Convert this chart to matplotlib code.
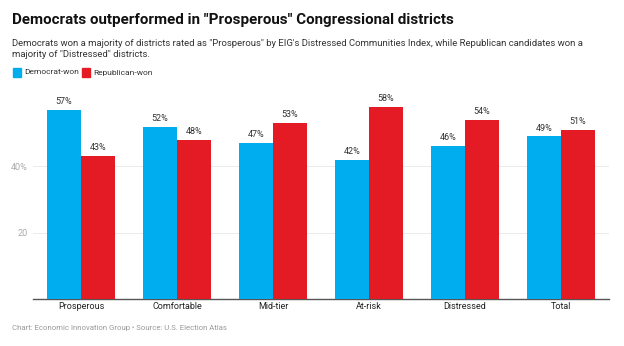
import numpy as np
import matplotlib.pyplot as plt
from matplotlib.patches import Rectangle

plt.rcParams['font.family'] = ['Roboto', 'DejaVu Sans']

categories = ['Prosperous', 'Comfortable', 'Mid-tier', 'At-risk', 'Distressed', 'Total']
dem = [57, 52, 47, 42, 46, 49]
rep = [43, 48, 53, 58, 54, 51]
yticks = [20, 40]
ytick_labels = ['20', '40%']

blue = '#00ADEF'
red = '#E41B24'

fig = plt.figure(figsize=(6.24, 3.46), dpi=100)
W, H = 624, 346
ax = fig.add_axes([33 / W, 1 - 299 / H, 576 / W, 199 / H])

x = np.arange(len(categories))
w = 0.355
b1 = ax.bar(x - w / 2, dem, w, color=blue, zorder=3)
b2 = ax.bar(x + w / 2, rep, w, color=red, zorder=3)
for bars, vals in ((b1, dem), (b2, rep)):
    for b, v in zip(bars, vals):
        ax.text(b.get_x() + b.get_width() / 2, v + 1.2, f'{v}%', ha='center',
                va='bottom', fontsize=6.5, color='#333333')

ax.set_xlim(-0.5, len(categories) - 0.5)
ax.set_ylim(0, 60)
ax.set_xticks(x)
ax.set_xticklabels(categories, fontsize=6.5, color='#222222')
ax.set_yticks(yticks)
ax.set_yticklabels(ytick_labels, fontsize=6.5, color='#aaaaaa')
ax.tick_params(axis='x', length=0, pad=2.5)
ax.tick_params(axis='y', length=0, pad=4)
ax.grid(axis='y', color='#e8e8e8', linewidth=0.6, zorder=0)
for s in ['top', 'right', 'left']:
    ax.spines[s].set_visible(False)
ax.spines['bottom'].set_color('#555555')
ax.spines['bottom'].set_linewidth(1)

fig.text(12 / W, 1 - 20 / H, 'Democrats outperformed in "Prosperous" Congressional districts',
         fontsize=10.9, fontweight='bold', va='center', color='#111111')
fig.text(12 / W, 1 - 49 / H,
         'Democrats won a majority of districts rated as "Prosperous" by EIG\'s Distressed Communities Index, while Republican candidates won a\nmajority of "Distressed" districts.',
         fontsize=6.8, va='center', color='#333333', linespacing=1.4)

fig.patches.append(Rectangle((13 / W, 1 - 77 / H), 8 / W, 9 / H, transform=fig.transFigure,
                             color=blue))
fig.text(24 / W, 1 - 72.5 / H, 'Democrat-won', fontsize=6.0, va='center', color='#333333')
fig.patches.append(Rectangle((82 / W, 1 - 77 / H), 8 / W, 9 / H, transform=fig.transFigure,
                             color=red))
fig.text(93 / W, 1 - 72.5 / H, 'Republican-won', fontsize=6.0, va='center', color='#333333')

fig.text(12 / W, 1 - 328 / H, 'Chart: Economic Innovation Group • Source: U.S. Election Atlas',
         fontsize=5.6, va='center', color='#999999')

fig.savefig('out.png', dpi=100)
